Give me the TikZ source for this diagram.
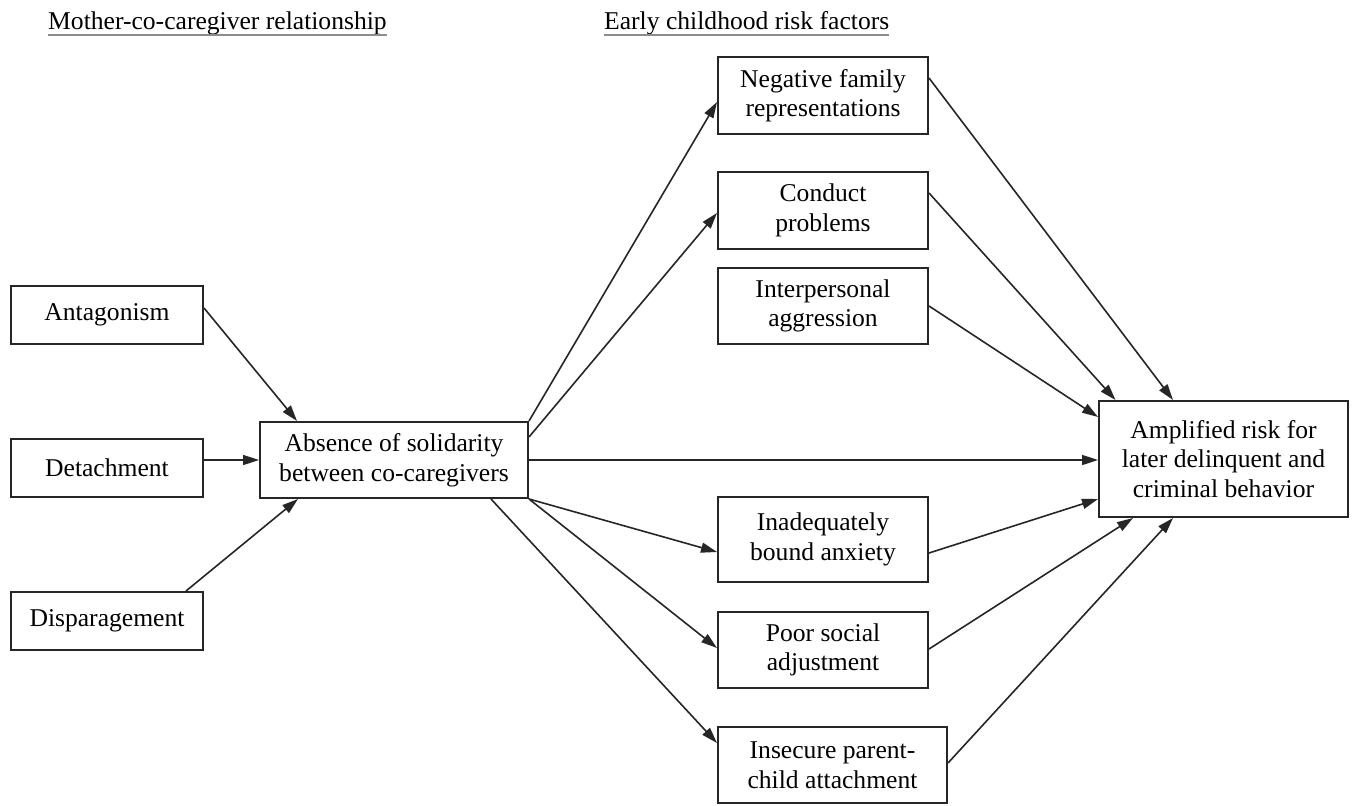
\documentclass[tikz,border=0pt]{standalone}
\usepackage{fontspec}
\setmainfont{Liberation Serif}
\usetikzlibrary{arrows.meta}
\begin{document}
\begin{tikzpicture}[x=1pt,y=-1pt,
  box/.style={draw=black!85, line width=2pt, align=center, inner sep=0pt,
              font=\fontsize{25.6}{29.5}\selectfont},
  arr/.style={line width=1.6pt, draw=black!85, -{Triangle[length=16pt,width=10pt]}},
  hdr/.style={font=\fontsize{25.6}{29.5}\selectfont, inner sep=0pt, anchor=base west},
  uline/.style={draw=black!45, line width=2.5pt}]
\useasboundingbox[fill=white] (0,0) rectangle (1355,806);

% headers
\node[hdr] (h1) at (48,29) {Mother-co-caregiver relationship};
\node[hdr] (h2) at (604,29) {Early childhood risk factors};
\draw[uline] ([yshift=-6pt]h1.base west) -- ([yshift=-6pt]h1.base east);
\draw[uline] ([yshift=-6pt]h2.base west) -- ([yshift=-6pt]h2.base east);

% left column
\node[box, minimum width=192pt, minimum height=58pt] (ant) at (107,315) {Antagonism};
\node[box, minimum width=192pt, minimum height=58pt] (det) at (107,468) {Detachment};
\node[box, minimum width=192pt, minimum height=58pt] (dis) at (107,621) {Disparagement};

% middle
\node[box, minimum width=268pt, minimum height=76pt] (abs) at (394,460)
  {Absence of solidarity\\between co-caregivers};

% risk factors
\node[box, minimum width=210pt, minimum height=77pt] (neg) at (823,95.5)
  {Negative family\\representations};
\node[box, minimum width=210pt, minimum height=77pt] (con) at (823,210.5)
  {Conduct\\problems};
\node[box, minimum width=210pt, minimum height=76pt] (int) at (823,306)
  {Interpersonal\\aggression};
\node[box, minimum width=210pt, minimum height=85pt] (ina) at (823,539.5)
  {Inadequately\\bound anxiety};
\node[box, minimum width=210pt, minimum height=76pt] (poo) at (823,650)
  {Poor social\\adjustment};
\node[box, minimum width=229pt, minimum height=76pt] (ins) at (832.5,765)
  {Insecure parent-\\child attachment};

% outcome
\node[box, minimum width=249pt, minimum height=116pt] (amp) at (1223.5,459)
  {Amplified risk for\\later delinquent and\\criminal behavior};

% left arrows
\draw[arr] ([yshift=7pt]ant.east) -- ([xshift=-97pt]abs.north);
\draw[arr] (abs.west -| det.east) -- (abs.west);
\draw[arr] ([xshift=79pt]dis.north) -- ([xshift=-96pt]abs.south);

% middle arrows
\draw[arr] (abs.north east) -- ([yshift=-6.5pt]neg.west);
\draw[arr] ([yshift=-16pt]abs.north east) -- ([yshift=-2.5pt]con.west);
\draw[arr] (abs.east) -- (abs.east -| amp.west);
\draw[arr] (abs.south east) -- ([yshift=-12.5pt]ina.west);
\draw[arr] (abs.south east) -- ([yshift=2pt]poo.west);
\draw[arr] ([xshift=-38pt]abs.south east) -- ([yshift=22pt]ins.west);

% right arrows
\draw[arr] ([yshift=17.5pt]neg.east) -- ([xshift=-50.5pt]amp.north);
\draw[arr] ([yshift=17.5pt]con.east) -- ([xshift=-108pt]amp.north);
\draw[arr] (int.east) -- ([yshift=42pt]amp.west);
\draw[arr] ([yshift=-13.5pt]ina.east) -- ([yshift=-40pt]amp.west);
\draw[arr] ([yshift=1pt]poo.east) -- ([xshift=-90.5pt]amp.south);
\draw[arr] ([yshift=2pt]ins.east) -- ([xshift=-50.5pt]amp.south);
\end{tikzpicture}
\end{document}
